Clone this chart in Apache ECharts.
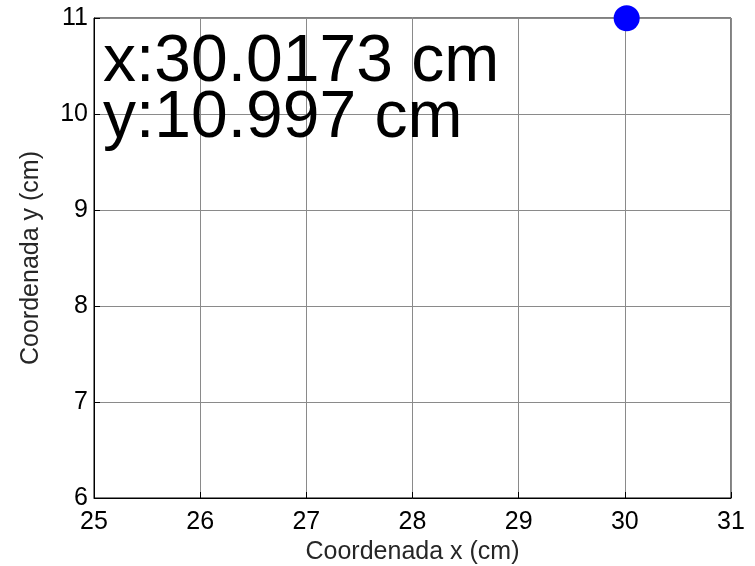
<!DOCTYPE html>
<html>
<head>
<meta charset="utf-8">
<script src="https://cdn.jsdelivr.net/npm/echarts@6/dist/echarts.min.js"></script>
<style>
  html, body { margin: 0; padding: 0; background: #fff; }
  #chart { width: 755px; height: 566px; }
</style>
</head>
<body>
<div id="chart"></div>
<script>
// Position of the tracked point, in centimetres
const pointX = 30.0173;
const pointY = 10.997;

// Axis extents and ticks
const xTicks = [25, 26, 27, 28, 29, 30, 31];
const yTicks = [6, 7, 8, 9, 10, 11];

const xTitle = 'Coordenada x (cm)';
const yTitle = 'Coordenada y (cm)';

const font = 'Liberation Sans, Arial, sans-serif';

const chart = echarts.init(document.getElementById('chart'));

chart.setOption({
  animation: false,
  backgroundColor: '#fff',
  grid: {
    left: 94, right: 24, top: 18, bottom: 68,
    outerBoundsMode: 'none',
    containLabel: false,
    show: true, borderColor: '#000', borderWidth: 1
  },
  xAxis: {
    type: 'value',
    min: xTicks[0], max: xTicks[xTicks.length - 1], interval: 1,
    name: xTitle, nameLocation: 'middle', nameGap: 42,
    nameTextStyle: { fontFamily: font, fontSize: 25, color: '#262626' },
    axisLine: { show: true, onZero: false, lineStyle: { color: '#000', width: 1 } },
    axisTick: { show: true, inside: true, length: 6, lineStyle: { color: '#000' } },
    axisLabel: { fontFamily: font, fontSize: 25, color: '#000', margin: 12 },
    splitLine: { show: true, lineStyle: { color: '#8a8a8a', width: 1 } }
  },
  yAxis: {
    type: 'value',
    min: yTicks[0], max: yTicks[yTicks.length - 1], interval: 1,
    name: yTitle, nameLocation: 'middle', nameGap: 50,
    nameTextStyle: { fontFamily: font, fontSize: 25, color: '#262626' },
    axisLine: { show: true, onZero: false, lineStyle: { color: '#000', width: 1 } },
    axisTick: { show: true, inside: true, length: 6, lineStyle: { color: '#000' } },
    axisLabel: { fontFamily: font, fontSize: 25, color: '#000', margin: 6, padding: [4, 0, 0, 0] },
    splitLine: { show: true, lineStyle: { color: '#8a8a8a', width: 1 } }
  },
  series: [{
    type: 'scatter',
    data: [[pointX, pointY]],
    symbol: 'circle',
    symbolSize: 26,
    itemStyle: { color: '#0000ff', opacity: 1 },
    clip: false,
    z: 5
  }],
  graphic: [{
    type: 'text',
    left: 103, top: 30,
    z: 10,
    style: {
      text: 'x:' + pointX + ' cm\ny:' + pointY + ' cm',
      font: '66px ' + font,
      lineHeight: 56,
      fill: '#000'
    }
  }]
});
</script>
</body>
</html>
